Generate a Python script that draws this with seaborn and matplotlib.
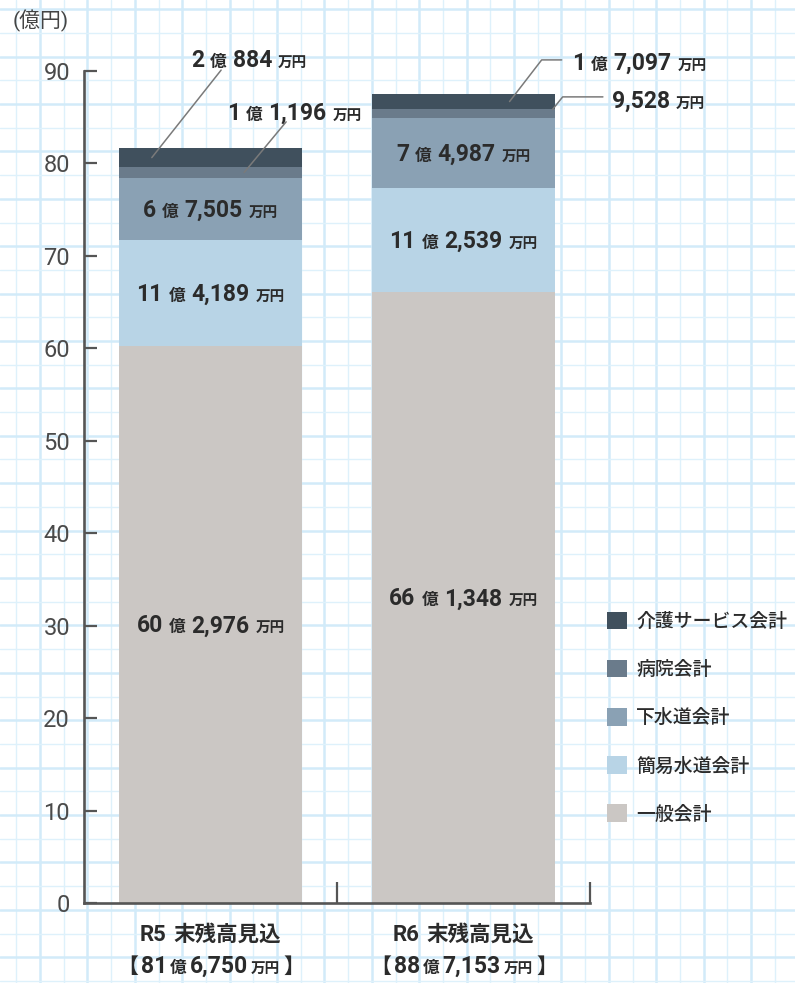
import matplotlib
matplotlib.use("Agg")
import matplotlib.pyplot as plt
import matplotlib.transforms as mtransforms
from matplotlib.patches import Patch
from matplotlib.font_manager import FontProperties
import numpy as np
import pandas as pd
import seaborn as sns

# ---- data (億円) ----
periods = ["R5 末残高見込", "R6 末残高見込"]
totals = ["81", "88"]
totals_rest = ["6,750", "7,153"]
layers = ["一般会計", "簡易水道会計", "下水道会計", "病院会計", "介護サービス会計"]
ippan = [60.2976, 66.1348]
kani = [11.4189, 11.2539]
gesui = [6.7505, 7.4987]
byoin = [1.1196, 0.9528]
kaigo = [2.0884, 1.7097]
# label text per segment: (億 part, 万 part)
lab_ippan = [("60", "2,976"), ("66", "1,348")]
lab_kani = [("11", "4,189"), ("11", "2,539")]
lab_gesui = [("6", "7,505"), ("7", "4,987")]
lab_byoin = [("1", "1,196"), (None, "9,528")]
lab_kaigo = [("2", "884"), ("1", "7,097")]

colors = {"一般会計": "#cbc7c4", "簡易水道会計": "#b8d4e6", "下水道会計": "#8aa1b4",
          "病院会計": "#6a7b8b", "介護サービス会計": "#40505d"}

FAM = ["Roboto", "Noto Sans CJK JP", "DejaVu Sans"]
TXT = "#2b2b2b"
W, H = 795, 983

sns.set_style("white")
plt.rcParams["font.family"] = FAM

fig = plt.figure(figsize=(W / 100, H / 100), dpi=100)
fig.patch.set_facecolor("white")

# graph paper background
bg = fig.add_axes([0, 0, 1, 1], zorder=0)
bg.set_xlim(0, W)
bg.set_ylim(H, 0)
bg.axis("off")
step = 47.4
for xv in np.arange(40, W, step):
    bg.axvline(xv, color="#d2ebf9", lw=1.8)
for xv in np.arange(16.3, W, step):
    bg.axvline(xv, color="#def1fb", lw=1.0)
for yv in np.arange(9.2, H, step):
    bg.axhline(yv, color="#d2ebf9", lw=1.8)
for yv in np.arange(32.9, H, step):
    bg.axhline(yv, color="#def1fb", lw=1.0)

ax = fig.add_axes([84 / W, (H - 903) / H, (590 - 84) / W, (903 - 71) / H], zorder=1)
ax.set_facecolor("none")

df = pd.DataFrame({"period": periods, "一般会計": ippan, "簡易水道会計": kani,
                   "下水道会計": gesui, "病院会計": byoin, "介護サービス会計": kaigo})
cum = df[layers].cumsum(axis=1)

bw = 0.722
for layer in layers[::-1]:
    sns.barplot(x=df["period"], y=cum[layer], color=colors[layer], width=bw,
                saturation=1, ax=ax, linewidth=0, zorder=2)

ax.set_xlim(-0.5, 1.5)
ax.set_ylim(0, 90)
ax.set_xlabel("")
ax.set_ylabel("")
for s in ["top", "right"]:
    ax.spines[s].set_visible(False)
for s in ["left", "bottom"]:
    ax.spines[s].set_color("#555555")
    ax.spines[s].set_linewidth(1.9)
ax.set_yticks(np.arange(0, 91, 10))
ax.tick_params(axis="y", left=True, direction="in", length=9.5, width=1.6,
               color="#555555", pad=10, labelsize=17, labelcolor="#4a4a4a")
ax.set_xticks([0, 1])
ax.set_xticklabels(["", ""])
ax.tick_params(axis="x", which="major", length=0)
ax.set_xticks([0.5, 1.5], minor=True)
ax.tick_params(axis="x", which="minor", bottom=True, direction="in", length=15,
               width=1.6, color="#555555")

renderer = fig.canvas.get_renderer()
ident = mtransforms.IdentityTransform()
GAP = 6


def rich(xd, yd, parts, ha="center", base_off=-8, gap=GAP):
    """parts: list of (text, size, weight); anchor in display px"""
    texts = []
    for s, size, wt in parts:
        t = fig.text(0, 0, s, fontsize=size, fontweight=wt, color=TXT,
                     ha="left", va="baseline", transform=ident, zorder=5)
        texts.append(t)
    widths = [t.get_window_extent(renderer).width for t in texts]
    total = sum(widths) + gap * (len(texts) - 1)
    x0 = xd - total / 2 if ha == "center" else xd
    for t, w in zip(texts, widths):
        t.set_position((x0, yd + base_off))
        x0 += w + gap


def parts_for(oku, man):
    p = []
    if oku is not None:
        p += [(oku, 16.5, "bold"), ("億", 12, "bold")]
    p += [(man, 16.5, "bold"), ("万円", 10.5, "bold")]
    return p


def data_label(x, y, oku, man, ha="center"):
    xd, yd = ax.transData.transform((x, y))
    rich(xd, yd, parts_for(oku, man), ha=ha)


# labels inside bars
bottoms = cum.shift(axis=1, fill_value=0)
inside = {"一般会計": lab_ippan, "簡易水道会計": lab_kani, "下水道会計": lab_gesui}
for layer, labs in inside.items():
    for i in range(2):
        mid = bottoms[layer][i] + df[layer][i] / 2
        data_label(i, mid, *labs[i])

# outside labels with leader lines
lc = "#7a7a7a"
mid_kaigo = [bottoms["介護サービス会計"][i] + kaigo[i] / 2 for i in range(2)]
mid_byoin = [bottoms["病院会計"][i] + byoin[i] / 2 for i in range(2)]
top_byoin = [cum["病院会計"][i] for i in range(2)]

ax.plot([-0.232, 0.042], [mid_kaigo[0], 90.1], color=lc, lw=1.1, clip_on=False, zorder=4)
data_label(0.152, 91.3, *lab_kaigo[0])
ax.plot([0.133, 0.299], [mid_byoin[0], 84.5], color=lc, lw=1.1, clip_on=False, zorder=4)
data_label(0.331, 85.6, *lab_byoin[0])

ax.plot([1.182, 1.309, 1.388], [mid_kaigo[1], 91.2, 91.2], color=lc, lw=1.1,
        clip_on=False, zorder=4)
data_label(1.428, 91.0, *lab_kaigo[1], ha="left")
ax.plot([1.352, 1.392, 1.551], [top_byoin[1], 87.2, 87.2], color=lc, lw=1.1,
        clip_on=False, zorder=4)
data_label(1.586, 86.9, *lab_byoin[1], ha="left")

# x category labels
for i in range(2):
    xd, _ = ax.transData.transform((i, 0))
    rich(xd, H - 941, [(periods[i].split(" ")[0], 16, "bold"),
                      (periods[i].split(" ")[1], 15.5, "bold")], base_off=0, gap=7)
    rich(xd, H - 973, [("【", 15, "bold"), (totals[i], 16.5, "bold"), ("億", 12, "bold"),
                      (totals_rest[i], 16.5, "bold"), ("万円", 10.5, "bold"),
                      ("】", 15, "bold")], base_off=0, gap=3)

# unit label
fig.text(13, H - 21, "(億円)", fontsize=15, color="#444444", ha="left", va="center",
         transform=ident)

# legend
handles = [Patch(facecolor=colors[l], edgecolor="none") for l in layers[::-1]]
fig.legend(handles, layers[::-1], loc="upper left", bbox_to_anchor=(607 / W, 1 - 611 / H),
           frameon=False, borderpad=0, borderaxespad=0, handlelength=1.04,
           handleheight=1.04, handletextpad=0.5, labelspacing=1.49,
           prop=FontProperties(family=["Noto Sans CJK JP", "DejaVu Sans"], size=13.6,
                               weight="medium"), labelcolor=TXT)

fig.savefig("out.png", dpi=100)
